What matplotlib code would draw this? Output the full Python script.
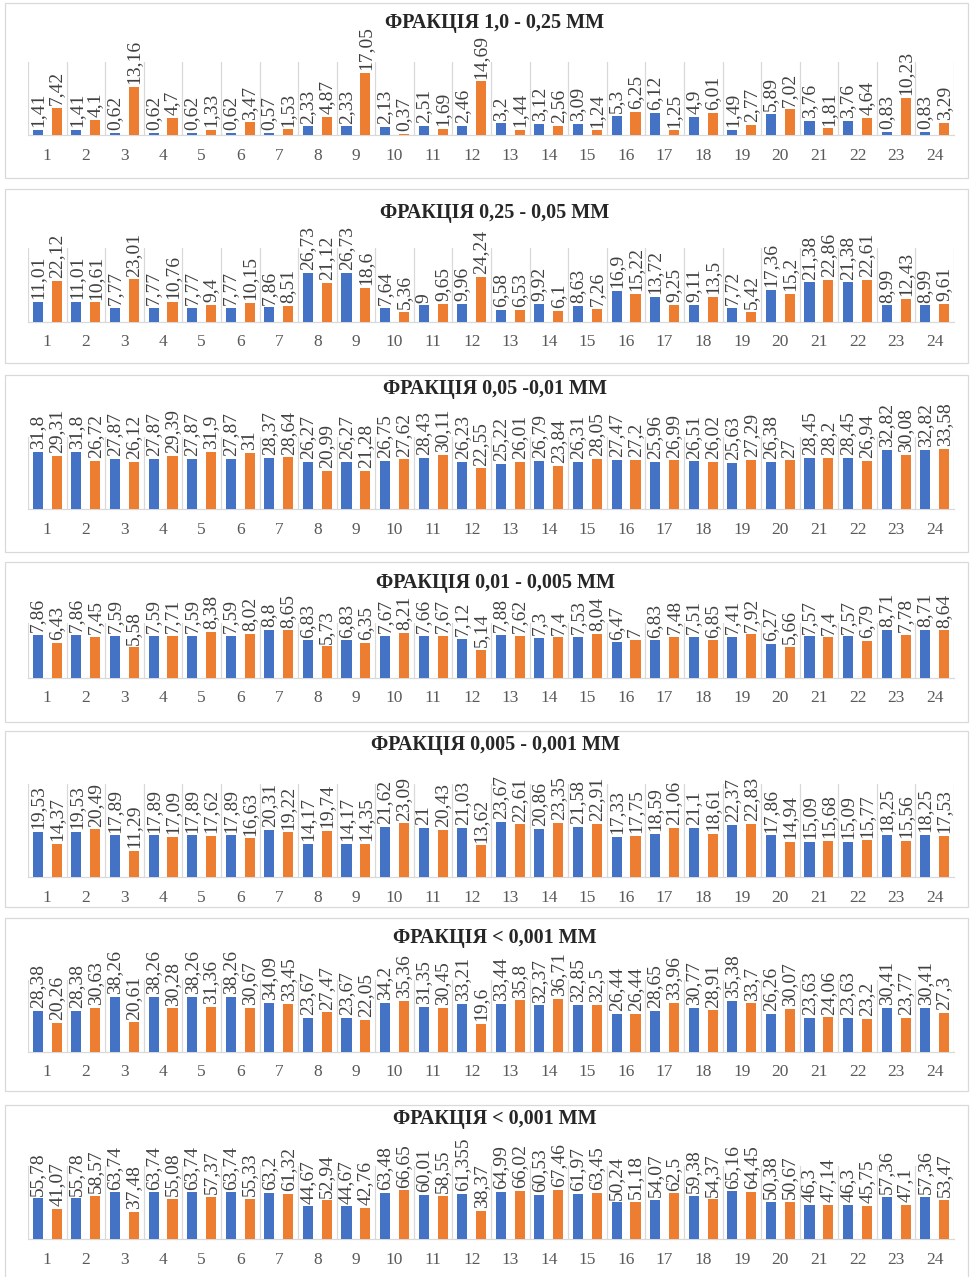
import numpy as np
import matplotlib
matplotlib.use("Agg")
import matplotlib.pyplot as plt
from matplotlib.patches import Rectangle

# categories (sample numbers)
samples = list(range(1, 25))

# panel titles
titles = [
    "ФРАКЦІЯ 1,0 - 0,25 ММ",
    "ФРАКЦІЯ 0,25 - 0,05 ММ",
    "ФРАКЦІЯ 0,05 -0,01 ММ",
    "ФРАКЦІЯ 0,01 - 0,005 ММ",
    "ФРАКЦІЯ 0,005 - 0,001 ММ",
    "ФРАКЦІЯ < 0,001 ММ",
    "ФРАКЦІЯ < 0,001 ММ",
]

# fraction 1,0 - 0,25
blue_1 = [1.41, 1.41, 0.62, 0.62, 0.62, 0.62, 0.57, 2.33, 2.33, 2.13, 2.51, 2.46,
          3.2, 3.12, 3.09, 5.3, 6.12, 4.9, 1.49, 5.89, 3.76, 3.76, 0.83, 0.83]
orange_1 = [7.42, 4.1, 13.16, 4.7, 1.33, 3.47, 1.53, 4.87, 17.05, 0.37, 1.69, 14.69,
            1.44, 2.56, 1.24, 6.25, 1.25, 6.01, 2.77, 7.02, 1.81, 4.64, 10.23, 3.29]

# fraction 0,25 - 0,05
blue_2 = [11.01, 11.01, 7.77, 7.77, 7.77, 7.77, 7.86, 26.73, 26.73, 7.64, 9, 9.96,
          6.58, 9.92, 8.63, 16.9, 13.72, 9.11, 7.72, 17.36, 21.38, 21.38, 8.99, 8.99]
orange_2 = [22.12, 10.61, 23.01, 10.76, 9.4, 10.15, 8.51, 21.12, 18.6, 5.36, 9.65, 24.24,
            6.53, 6.1, 7.26, 15.22, 9.25, 13.5, 5.42, 15.2, 22.86, 22.61, 12.43, 9.61]

# fraction 0,05 - 0,01
blue_3 = [31.8, 31.8, 27.87, 27.87, 27.87, 27.87, 28.37, 26.27, 26.27, 26.75, 28.43, 26.23,
          25.22, 26.79, 26.31, 27.47, 25.96, 26.51, 25.63, 26.38, 28.45, 28.45, 32.82, 32.82]
orange_3 = [29.31, 26.72, 26.12, 29.39, 31.9, 31, 28.64, 20.99, 21.28, 27.62, 30.11, 22.55,
            26.01, 23.84, 28.05, 27.2, 26.99, 26.02, 27.29, 27, 28.2, 26.94, 30.08, 33.58]

# fraction 0,01 - 0,005
blue_4 = [7.86, 7.86, 7.59, 7.59, 7.59, 7.59, 8.8, 6.83, 6.83, 7.67, 7.66, 7.12,
          7.88, 7.3, 7.53, 6.47, 6.83, 7.51, 7.41, 6.27, 7.57, 7.57, 8.71, 8.71]
orange_4 = [6.43, 7.45, 5.58, 7.71, 8.38, 8.02, 8.65, 5.73, 6.35, 8.21, 7.67, 5.14,
            7.62, 7.4, 8.04, 7, 7.48, 6.85, 7.92, 5.66, 7.4, 6.79, 7.78, 8.64]

# fraction 0,005 - 0,001
blue_5 = [19.53, 19.53, 17.89, 17.89, 17.89, 17.89, 20.31, 14.17, 14.17, 21.62, 21, 21.03,
          23.67, 20.86, 21.58, 17.33, 18.59, 21.1, 22.37, 17.86, 15.09, 15.09, 18.25, 18.25]
orange_5 = [14.37, 20.49, 11.29, 17.09, 17.62, 16.63, 19.22, 19.74, 14.35, 23.09, 20.43, 13.62,
            22.61, 23.35, 22.91, 17.75, 21.06, 18.61, 22.83, 14.94, 15.68, 15.77, 15.56, 17.53]

# fraction < 0,001
blue_6 = [28.38, 28.38, 38.26, 38.26, 38.26, 38.26, 34.09, 23.67, 23.67, 34.2, 31.35, 33.21,
          33.44, 32.37, 32.85, 26.44, 28.65, 30.77, 35.38, 26.26, 23.63, 23.63, 30.41, 30.41]
orange_6 = [20.26, 30.63, 20.61, 30.28, 31.36, 30.67, 33.45, 27.47, 22.05, 35.36, 30.45, 19.6,
            35.8, 36.71, 32.5, 26.44, 33.96, 28.91, 33.7, 30.07, 24.06, 23.2, 23.77, 27.3]

# fraction < 0,001 (second)
blue_7 = [55.78, 55.78, 63.74, 63.74, 63.74, 63.74, 63.2, 44.67, 44.67, 63.48, 60.01, 61.355,
          64.99, 60.53, 61.97, 50.24, 54.07, 59.38, 65.16, 50.38, 46.3, 46.3, 57.36, 57.36]
orange_7 = [41.07, 58.57, 37.48, 55.08, 57.37, 55.33, 61.32, 52.94, 42.76, 66.65, 58.55, 38.37,
            66.02, 67.46, 63.45, 51.18, 62.5, 54.37, 64.45, 50.67, 47.14, 45.75, 47.1, 53.47]

blues = [blue_1, blue_2, blue_3, blue_4, blue_5, blue_6, blue_7]
oranges = [orange_1, orange_2, orange_3, orange_4, orange_5, orange_6, orange_7]

# layout in pixels: (frame top, frame bottom, plot top, baseline, title y, y max)
layout = [
    (3, 178, 62, 135, 23, 20),
    (189, 363, 248, 322, 213, 40),
    (375, 552, 437, 509, 389, 40),
    (562, 722, 623, 678, 583, 10),
    (731, 907, 784, 877, 745, 40),
    (918, 1091, 980, 1052, 938, 50),
    (1105, 1300, 1166, 1239, 1119, 100),
]

W, H = 971, 1277
fig = plt.figure(figsize=(W / 100, H / 100), dpi=100)
fig.patch.set_facecolor("white")

serif = "Liberation Serif"
grid_col = "#D9D9D9"
x0, x1 = 28, 954


def fmt(v):
    return f"{v:g}".replace(".", ",")


x = np.array(samples)
for k in range(7):
    ftop, fbot, ptop, base, ty, ymax = layout[k]

    # chart frame
    fig.add_artist(Rectangle((5 / W, 1 - fbot / H), (968 - 5) / W, (fbot - ftop) / H,
                             transform=fig.transFigure, fill=False,
                             edgecolor=grid_col, lw=0.9))

    ax = fig.add_axes([x0 / W, 1 - base / H, (x1 - x0) / W, (base - ptop) / H])
    b1 = ax.bar(x - 0.245, blues[k], width=0.26, color="#4472C4", zorder=3)
    b2 = ax.bar(x + 0.245, oranges[k], width=0.26, color="#ED7D31", zorder=3)
    for bars, vals in ((b1, blues[k]), (b2, oranges[k])):
        ax.bar_label(bars, labels=[fmt(v) for v in vals], padding=2, rotation=90,
                     fontsize=14, family=serif, color="#404040")

    ax.set_xlim(0.5, 24.5)
    ax.set_ylim(0, ymax)
    ax.set_yticks([])
    ax.set_xticks(x)
    ax.set_xticklabels([str(s) for s in samples], fontsize=12.5, family=serif,
                       color="#595959")
    ax.set_xticks(np.arange(0.5, 25, 1), minor=True)
    ax.tick_params(axis="x", which="both", length=0, pad=9)
    ax.grid(which="minor", axis="x", color=grid_col, lw=0.9, zorder=0)
    for side in ("top", "left", "right"):
        ax.spines[side].set_visible(False)
    ax.spines["bottom"].set_color(grid_col)
    ax.spines["bottom"].set_linewidth(0.9)
    ax.set_facecolor("none")

    fig.text(495 / W, 1 - ty / H, titles[k], ha="center", va="center",
             fontsize=14.5, fontweight="bold", family=serif, color="#262626")

fig.savefig("out.png", dpi=100)
